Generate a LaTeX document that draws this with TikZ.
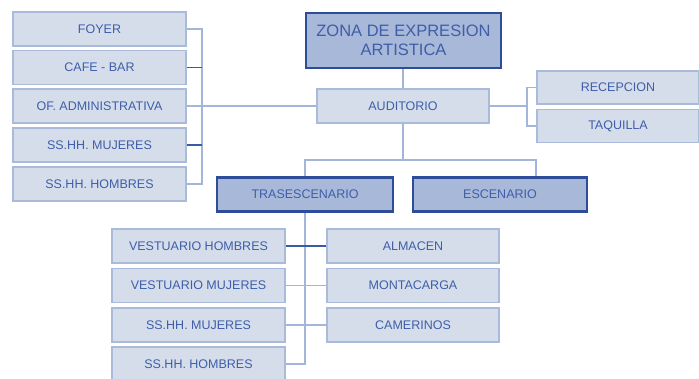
\documentclass[tikz,border=0pt]{standalone}
\usepackage{fontspec}
\setmainfont{Liberation Sans}
\definecolor{txt}{HTML}{3E5EA8}
\definecolor{lfill}{HTML}{D5DDEB}
\definecolor{lborder}{HTML}{A9BADB}
\definecolor{dfill}{HTML}{A8B8D8}
\definecolor{dborder}{HTML}{2D4D98}
\definecolor{lline}{HTML}{A3B5D8}
\definecolor{dline}{HTML}{3A5AA5}
\begin{document}
\begin{tikzpicture}[x=1pt,y=-1pt,
  lbox/.style={draw=lborder,fill=lfill,line width=1.5pt,text=txt,inner sep=0pt,
    font=\fontsize{12.5}{14}\selectfont,minimum width=173pt,minimum height=34pt},
  dbox/.style={draw=dborder,fill=dfill,line width=2.8pt,text=txt,inner sep=0pt,
    font=\fontsize{12.5}{14}\selectfont,minimum height=34pt},
  conn/.style={draw=lline,line width=1.2pt},
  dconn/.style={draw=dline,line width=1.2pt}]
\clip (0,0) rectangle (699,378);
\fill[white] (0,0) rectangle (699,378);
% left column
\node[lbox] (foyer) at (99.5,29) {FOYER};
\node[lbox] (cafe) at (99.5,67.5) {CAFE - BAR};
\node[lbox] (ofadm) at (99.5,106) {OF. ADMINISTRATIVA};
\node[lbox] (ssm) at (99.5,145) {SS.HH. MUJERES};
\node[lbox] (ssh) at (99.5,184) {SS.HH. HOMBRES};
% top
\node[dbox,minimum width=195pt,minimum height=55pt,align=center,
  font=\fontsize{16.5}{18.5}\selectfont] (zona) at (403.5,40.5) {ZONA DE EXPRESION\\ARTISTICA};
\node[lbox,minimum width=172pt] (aud) at (403,106) {AUDITORIO};
\node[lbox,minimum width=162pt,minimum height=33pt] (rec) at (618,87.5) {RECEPCION};
\node[lbox,minimum width=162pt,minimum height=33pt] (taq) at (618,126) {TAQUILLA};
% middle
\node[dbox,minimum width=176pt] (tras) at (305,194.5) {TRASESCENARIO};
\node[dbox,minimum width=174pt] (esc) at (500,194.5) {ESCENARIO};
% bottom
\node[lbox] (vh) at (198.5,246) {VESTUARIO HOMBRES};
\node[lbox] (vm) at (198.5,285.5) {VESTUARIO MUJERES};
\node[lbox] (bm) at (198.5,325) {SS.HH. MUJERES};
\node[lbox] (bh) at (198.5,364) {SS.HH. HOMBRES};
\node[lbox,minimum width=172pt] (alm) at (413,246) {ALMACEN};
\node[lbox,minimum width=172pt] (mon) at (413,285.5) {MONTACARGA};
\node[lbox,minimum width=172pt] (cam) at (413,325) {CAMERINOS};
% connectors left
\coordinate (lb) at (202,106);
\draw[conn] (foyer.east) -| (lb) |- (ssh.east);
\draw[dconn] (cafe.east) -- (cafe.east -| lb);
\draw[dconn] (ssm.east) -- (ssm.east -| lb);
\draw[conn] (ofadm.east) -- (aud.west);
% top connectors
\draw[conn] (aud.north) -- (aud.north |- zona.south);
\coordinate (rb) at (527,106);
\draw[conn] (aud.east) -- (rb);
\draw[conn] (rec.west) -| (rb) |- (taq.west);
\coordinate (mj) at (403,160);
\draw[conn] (aud.south) -- (mj);
\draw[conn] (tras.north) |- (mj) -| ([xshift=36pt]esc.north);
% bottom connectors
\draw[conn] (tras.south) |- (bh.east);
\draw[dconn] (vh.east) -- (alm.west);
\draw[conn] (vm.east) -- (mon.west);
\draw[conn] (bm.east) -- (cam.west);
\end{tikzpicture}
\end{document}
